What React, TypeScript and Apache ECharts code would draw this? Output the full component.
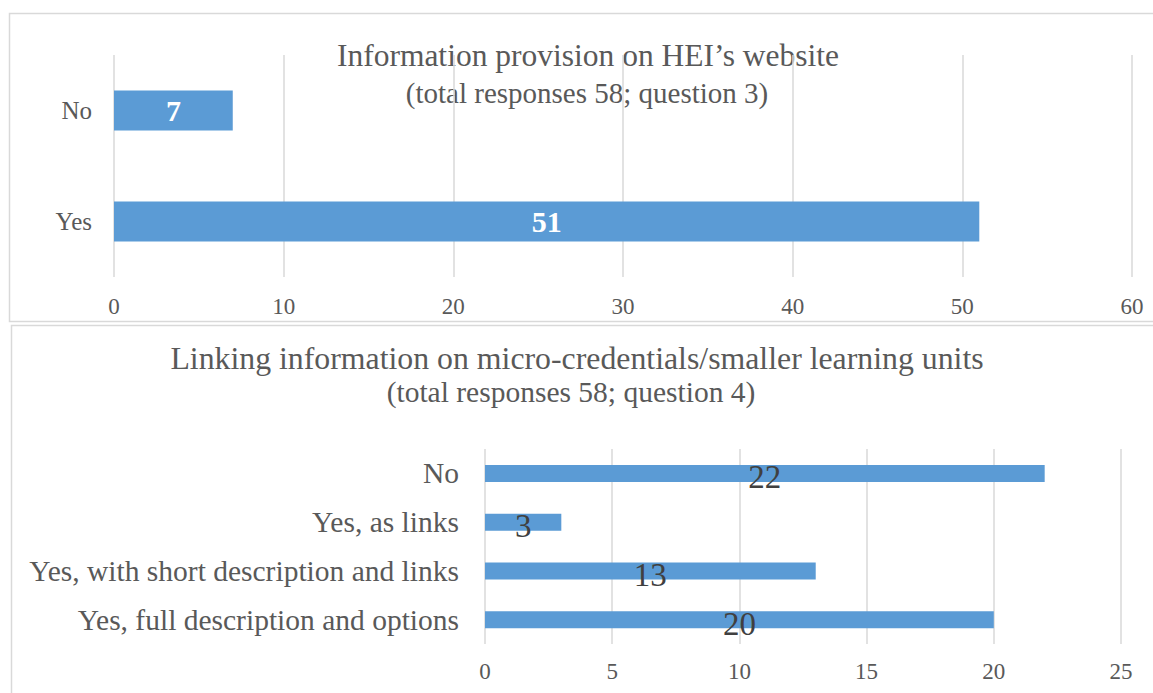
import React, { useEffect, useRef } from "react";
import * as echarts from "echarts";

const topCategories = ["Yes", "No"];
const topValues = [51, 7];
const topTitle = "Information provision on HEI’s website";
const topSubtitle = "(total responses 58; question 3)";

const bottomCategories = [
  "Yes, full description and options",
  "Yes, with short description and links",
  "Yes, as links",
  "No",
];
const bottomValues = [20, 13, 3, 22];
const bottomTitle = "Linking information on micro-credentials/smaller learning units";
const bottomSubtitle = "(total responses 58; question 4)";

const FONT = "'Liberation Serif', 'Times New Roman', serif";
const TEXT = "#595959";
const GRID = "#d9d9d9";
const BAR = "#5b9bd5";

export default function App() {
  const ref = useRef<HTMLDivElement>(null);
  useEffect(() => {
    const chart = echarts.init(ref.current!, undefined, { renderer: "svg" });
    chart.setOption({
      animation: false,
      textStyle: { fontFamily: FONT },
      graphic: [
        {
          type: "rect",
          shape: { x: 9.5, y: 13.5, width: 1160, height: 308 },
          style: { fill: "none", stroke: GRID, lineWidth: 1.5 },
          silent: true,
        },
        {
          type: "rect",
          shape: { x: 11.5, y: 325.5, width: 1160, height: 400 },
          style: { fill: "none", stroke: GRID, lineWidth: 1.5 },
          silent: true,
        },
        {
          type: "text",
          x: 588,
          y: 55,
          style: { text: topTitle, font: `31.5px ${FONT}`, fill: TEXT, textAlign: "center", textVerticalAlign: "middle" },
        },
        {
          type: "text",
          x: 587,
          y: 93,
          style: { text: topSubtitle, font: `29px ${FONT}`, fill: TEXT, textAlign: "center", textVerticalAlign: "middle" },
        },
        {
          type: "text",
          x: 577,
          y: 358,
          style: { text: bottomTitle, font: `31.8px ${FONT}`, fill: TEXT, textAlign: "center", textVerticalAlign: "middle" },
        },
        {
          type: "text",
          x: 571,
          y: 392,
          style: { text: bottomSubtitle, font: `29.5px ${FONT}`, fill: TEXT, textAlign: "center", textVerticalAlign: "middle" },
        },
      ],
      grid: [
        { left: 114, right: 21, top: 55, bottom: 416 },
        { left: 485, right: 32, top: 449, bottom: 49 },
      ],
      xAxis: [
        {
          gridIndex: 0,
          type: "value",
          min: 0,
          max: 60,
          interval: 10,
          axisLine: { show: false },
          axisTick: { show: false },
          splitLine: { lineStyle: { color: GRID, width: 1.5 } },
          axisLabel: { color: TEXT, fontSize: 23, fontFamily: FONT, margin: 18 },
        },
        {
          gridIndex: 1,
          type: "value",
          min: 0,
          max: 25,
          interval: 5,
          axisLine: { show: false },
          axisTick: { show: false },
          splitLine: { lineStyle: { color: GRID, width: 1.5 } },
          axisLabel: { color: TEXT, fontSize: 23, fontFamily: FONT, margin: 16 },
        },
      ],
      yAxis: [
        {
          gridIndex: 0,
          type: "category",
          data: topCategories,
          axisLine: { show: false },
          axisTick: { show: false },
          axisLabel: { color: TEXT, fontSize: 25, fontFamily: FONT, margin: 22 },
        },
        {
          gridIndex: 1,
          type: "category",
          data: bottomCategories,
          axisLine: { show: false },
          axisTick: { show: false },
          axisLabel: { color: TEXT, fontSize: 29.5, fontFamily: FONT, margin: 26 },
        },
      ],
      series: [
        {
          type: "bar",
          xAxisIndex: 0,
          yAxisIndex: 0,
          data: topValues,
          barWidth: 40,
          itemStyle: { color: BAR },
          label: {
            show: true,
            position: "inside",
            color: "#ffffff",
            fontWeight: "bold",
            fontSize: 30,
            fontFamily: FONT,
          },
        },
        {
          type: "bar",
          xAxisIndex: 1,
          yAxisIndex: 1,
          data: bottomValues,
          barWidth: 17,
          itemStyle: { color: BAR },
          label: {
            show: true,
            position: "inside",
            color: "#404040",
            fontSize: 33,
            fontFamily: FONT,
            offset: [0, 4],
          },
        },
      ],
    });
    return () => chart.dispose();
  }, []);
  return (
    <div
      ref={ref}
      style={{ position: "fixed", left: 0, top: 0, width: 1153, height: 693, background: "#fff" }}
    />
  );
}
